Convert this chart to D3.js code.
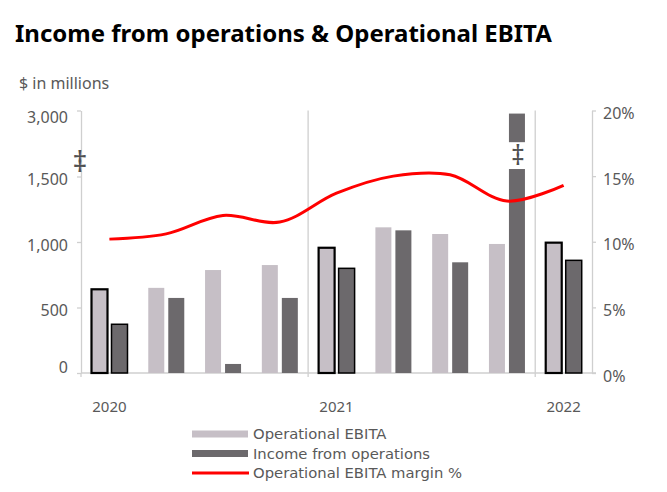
<!DOCTYPE html>
<html><head><meta charset="utf-8">
<script src="https://cdn.jsdelivr.net/npm/d3@7/dist/d3.min.js"></script>
<style>
html,body{margin:0;padding:0;background:#fff;}
svg{display:block;font-family:"Noto Sans",sans-serif;}
</style></head>
<body><svg id="c" width="667" height="492"></svg>
<script>
const categories = ["Q1 2020","Q2 2020","Q3 2020","Q4 2020","Q1 2021","Q2 2021","Q3 2021","Q4 2021","Q1 2022"];
const operationalEBITA = [639, 650, 786, 824, 956, 1112, 1061, 985, 995];
const incomeFromOps = [372, 573, 69, 573, 799, 1089, 845, 2930, 860];
const ebitaMargin = [0.102, 0.106, 0.120, 0.115, 0.137, 0.150, 0.151, 0.131, 0.143];
const yearLabels = [{cat:"Q1 2020", text:"2020"},{cat:"Q1 2021", text:"2021"},{cat:"Q1 2022", text:"2022"}];
const leftTicks = [0, 500, 1000, 1500, 3000];
const rightTicks = [0, 0.05, 0.10, 0.15, 0.20];
const highlighted = ["Q1 2020","Q1 2021","Q1 2022"];
const breakCat = "Q4 2021";
const breakRange = [1670, 2280];

const svg = d3.select("#c");
const textCol = "#595959", axisCol = "#cfcfcf";
const ebitaCol = "#c6bfc6", incomeCol = "#6c696c";

const x0 = d3.scaleBand().domain(categories).range([81, 592]).padding(0);
const x1 = d3.scaleBand().domain(["ebita","income"]).range([10.5, 46.5]).paddingInner(0.2);
const y = d3.scaleLinear().domain([0, 1500, 3000]).range([373, 176.5, 110.5]);
const yR = d3.scaleLinear().domain([0, 0.2]).range([373, 110.5]);

// Title
svg.append("text").attr("x", 15).attr("y", 42).attr("font-size", 24).attr("font-weight", 700)
  .attr("fill", "#000").text("Income from operations & Operational EBITA");
svg.append("text").attr("x", 19).attr("y", 89).attr("font-size", 16).attr("fill", textCol).text("$ in millions");

// Separator lines
[ "Q1 2021", "Q1 2022" ].forEach(c => {
  svg.append("line").attr("x1", x0(c)).attr("x2", x0(c)).attr("y1", 110.5).attr("y2", 377)
    .attr("stroke", axisCol).attr("stroke-width", 1.3);
});

// Left axis
const gL = svg.append("g").attr("transform", "translate(81,0)")
  .call(d3.axisLeft(y).tickValues(leftTicks).tickSize(4).tickSizeOuter(0).tickFormat(d3.format(",")));
gL.select(".domain").attr("stroke", axisCol).attr("stroke-width", 1.3);
gL.selectAll(".tick line").attr("stroke", axisCol).attr("stroke-width", 1.3);
gL.selectAll(".tick text").attr("fill", textCol).attr("font-size", 16).attr("font-family", "Noto Sans")
  .attr("x", -13).attr("dy", d => d === 0 ? "-0.05em" : d === 3000 ? "0.72em" : "0.5em");
svg.append("line").attr("x1", 81).attr("x2", 81).attr("y1", 373).attr("y2", 377).attr("stroke", axisCol).attr("stroke-width", 1.3);

// Right axis
const gR = svg.append("g").attr("transform", "translate(592,0)")
  .call(d3.axisRight(yR).tickValues(rightTicks).tickSize(4).tickSizeOuter(0).tickFormat(d3.format(".0%")));
gR.select(".domain").attr("stroke", axisCol).attr("stroke-width", 1.3);
gR.selectAll(".tick line").attr("stroke", axisCol).attr("stroke-width", 1.3);
gR.selectAll(".tick text").attr("fill", textCol).attr("font-size", 16).attr("font-family", "Noto Sans")
  .attr("x", 11).attr("dy", "0.5em");

// Bottom baseline
svg.append("line").attr("x1", 81).attr("x2", 596).attr("y1", 373).attr("y2", 373).attr("stroke", axisCol).attr("stroke-width", 1.3);

// Bars
const groups = svg.append("g").selectAll("g").data(categories).join("g")
  .attr("transform", c => `translate(${x0(c)},0)`);
groups.append("rect")
  .attr("x", x1("ebita")).attr("width", x1.bandwidth())
  .attr("y", (c,i) => y(operationalEBITA[i])).attr("height", (c,i) => y(0) - y(operationalEBITA[i]))
  .attr("fill", ebitaCol)
  .attr("stroke", c => highlighted.includes(c) ? "#000" : "none").attr("stroke-width", 2.2);
groups.append("rect")
  .attr("x", x1("income")).attr("width", x1.bandwidth())
  .attr("y", (c,i) => y(incomeFromOps[i])).attr("height", (c,i) => y(0) - y(incomeFromOps[i]))
  .attr("fill", incomeCol)
  .attr("stroke", c => highlighted.includes(c) ? "#000" : "none").attr("stroke-width", 1.5);

// Break in the tall bar
const bx = x0(breakCat) + x1("income");
svg.append("rect").attr("x", bx - 1).attr("width", x1.bandwidth() + 2)
  .attr("y", y(breakRange[1])).attr("height", y(breakRange[0]) - y(breakRange[1])).attr("fill", "#fff");
svg.append("text").attr("x", bx + x1.bandwidth()/2 + 1).attr("y", (y(breakRange[1])+y(breakRange[0]))/2 + 9)
  .attr("text-anchor", "middle").attr("font-size", 27).attr("fill", "#505050").text("\u2021");
svg.append("text").attr("x", 80).attr("y", 172).attr("text-anchor", "middle").attr("font-size", 29).attr("fill", "#505050").text("\u2021");

// Margin line
const line = d3.line().x((d,i) => x0(categories[i]) + x0.bandwidth()/2).y(d => yR(d)).curve(d3.curveCatmullRom.alpha(0.5));
svg.append("path").datum(ebitaMargin).attr("d", line).attr("fill", "none").attr("stroke", "#ff0000").attr("stroke-width", 3);

// Year labels
svg.append("g").selectAll("text").data(yearLabels).join("text")
  .attr("x", d => x0(d.cat) + x0.bandwidth()/2).attr("y", 412).attr("text-anchor", "middle")
  .attr("font-size", 15).attr("fill", textCol).text(d => d.text);

// Legend
const legend = [
  {type:"rect", color: ebitaCol, label:"Operational EBITA"},
  {type:"rect", color: incomeCol, label:"Income from operations"},
  {type:"line", color: "#ff0000", label:"Operational EBITA margin %"}
];
const lg = svg.append("g").selectAll("g").data(legend).join("g")
  .attr("transform", (d,i) => `translate(192,${434 + i*19.5})`);
lg.filter(d => d.type === "rect").append("rect").attr("x", 0).attr("y", -3.5).attr("width", 56).attr("height", 7).attr("fill", d => d.color);
lg.filter(d => d.type === "line").append("line").attr("x1", 0).attr("x2", 57).attr("y1", 0).attr("y2", 0).attr("stroke", d => d.color).attr("stroke-width", 3);
lg.append("text").attr("x", 61).attr("y", 0).attr("dy", "0.36em").attr("font-size", 14.8)
  .attr("font-family", "DejaVu Sans").attr("fill", textCol).text(d => d.label);
</script></body></html>
